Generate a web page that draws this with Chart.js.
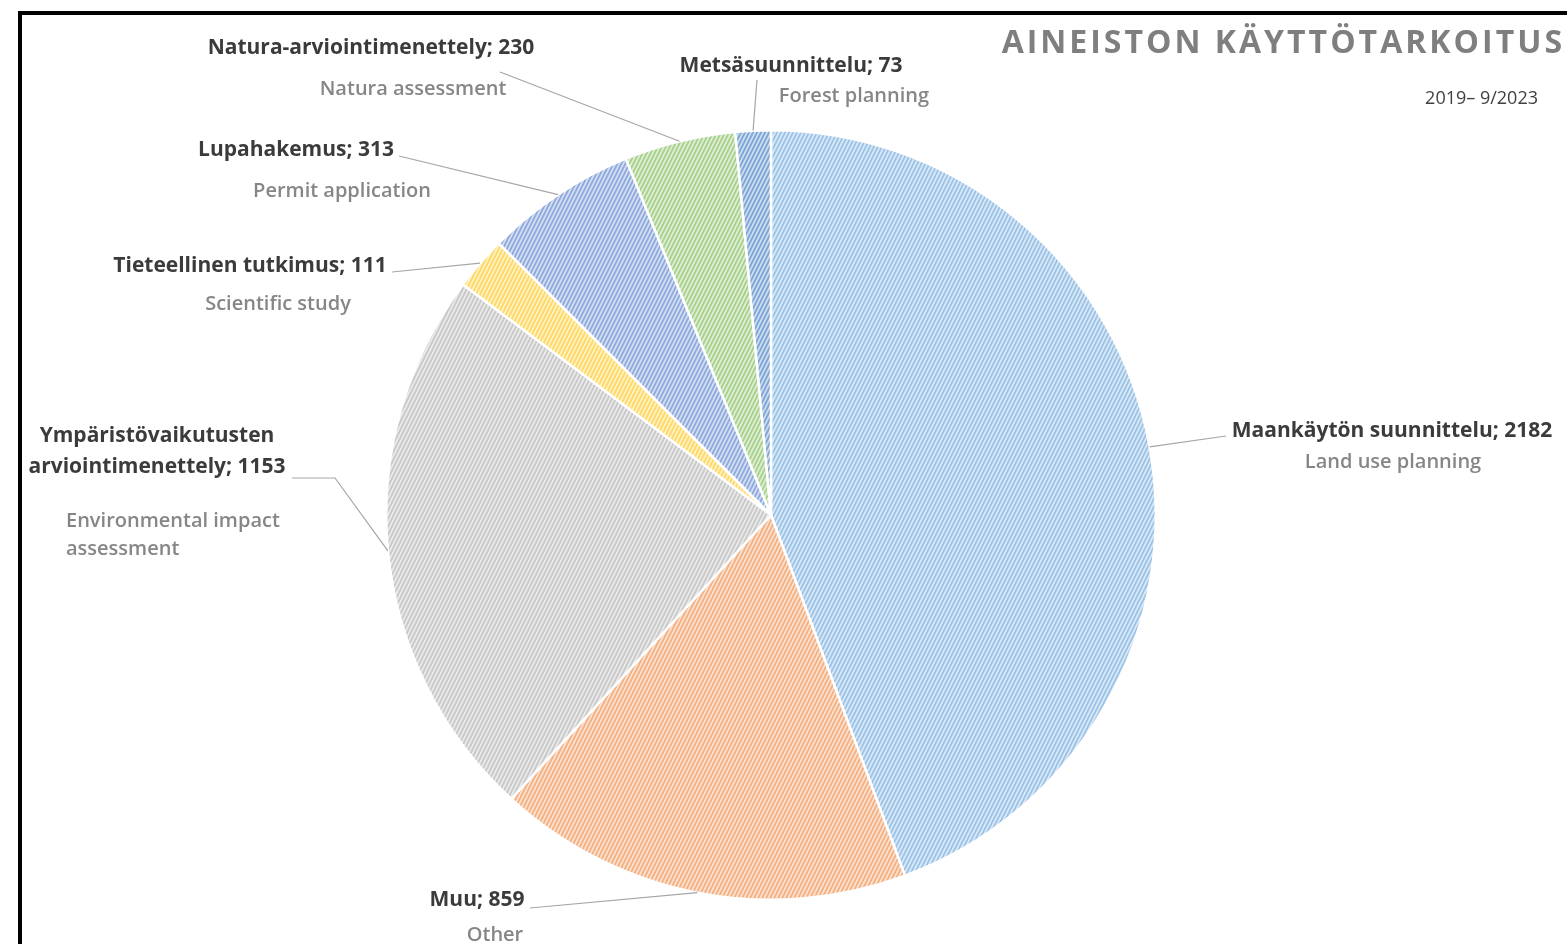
<!DOCTYPE html>
<html>
<head>
<meta charset="utf-8">
<title>Aineiston käyttötarkoitus</title>
<script src="https://cdn.jsdelivr.net/npm/chart.js"></script>
<style>
  html, body { margin: 0; padding: 0; background: #fff; overflow: hidden; }
  canvas { display: block; }
</style>
</head>
<body>
<canvas id="purposeChart" width="1567" height="944"></canvas>
<script>
const categories = [
  "Maankäytön suunnittelu",
  "Muu",
  "Ympäristövaikutusten arviointimenettely",
  "Tieteellinen tutkimus",
  "Lupahakemus",
  "Natura-arviointimenettely",
  "Metsäsuunnittelu"
];
const englishNames = [
  "Land use planning",
  "Other",
  "Environmental impact assessment",
  "Scientific study",
  "Permit application",
  "Natura assessment",
  "Forest planning"
];
const values = [2182, 859, 1153, 111, 313, 230, 73];
const sliceColors = ["#9dc3e6", "#f4b183", "#c9c9c9", "#ffd966", "#8faadc", "#a9d18e", "#7ea6d6"];

const chartTitle = "AINEISTON KÄYTTÖTARKOITUS";
const chartPeriod = "2019– 9/2023";

// where the text of each label sits (bold line centre, english line) and where its leader line ends
const labelLayout = [
  { bx: 1392, by: 431, ex: 1393, ey: 462, lead: [[1226, 436]] },
  { bx: 477, by: 900, ex: 495, ey: 935, lead: [[530, 908]] },
  { bx: 157, by: 436, ex: 66, ey: 521, wrapBold: 1, wrapEn: 2, enLeft: true, lead: [[335, 478], [292, 478]] },
  { bx: 250, by: 266, ex: 278, ey: 304, lead: [[392, 272]] },
  { bx: 296, by: 150, ex: 342, ey: 191, lead: [[399, 156]] },
  { bx: 371, by: 48, ex: 413, ey: 89, lead: [[500, 72]] },
  { bx: 791, by: 66, ex: 854, ey: 96, lead: [[757, 80]] }
];

function hatch(color) {
  const w = 4, h = 8;
  const c = document.createElement("canvas");
  c.width = w; c.height = h;
  const g = c.getContext("2d");
  g.fillStyle = color;
  g.fillRect(0, 0, w, h);
  const img = g.getImageData(0, 0, w, h);
  for (let y = 0; y < h; y++) {
    for (let x = 0; x < w; x++) {
      const phase = (2 * x + y) % 8;
      const k = phase < 3 ? 0.6 : (phase === 3 || phase === 7 ? 0.3 : 0);
      const i = (y * w + x) * 4;
      img.data[i] += (255 - img.data[i]) * k;
      img.data[i + 1] += (255 - img.data[i + 1]) * k;
      img.data[i + 2] += (255 - img.data[i + 2]) * k;
    }
  }
  g.putImageData(img, 0, 0);
  return g.createPattern(c, "repeat");
}

const ctx0 = document.getElementById("purposeChart").getContext("2d");

function splitAfter(text, n) {
  const words = text.split(" ");
  return [words.slice(0, n).join(" "), words.slice(n).join(" ")];
}

const decorations = {
  id: "decorations",
  beforeDraw(chart) {
    const ctx = chart.ctx;
    ctx.save();
    ctx.fillStyle = "#fff";
    ctx.fillRect(0, 0, chart.width, chart.height);
    ctx.fillStyle = "#000";
    ctx.fillRect(18, 11, chart.width, 4);
    ctx.fillRect(18, 11, 4, chart.height);
    ctx.restore();
  },
  afterDatasetsDraw(chart) {
    const ctx = chart.ctx;
    const meta = chart.getDatasetMeta(0);
    ctx.save();

    meta.data.forEach((arc, i) => {
      const p = arc.getProps(["x", "y", "startAngle", "endAngle", "outerRadius"], true);
      const mid = (p.startAngle + p.endAngle) / 2;
      const ax = p.x + Math.cos(mid) * p.outerRadius;
      const ay = p.y + Math.sin(mid) * p.outerRadius;
      const lay = labelLayout[i];

      ctx.strokeStyle = "#a6a6a6";
      ctx.lineWidth = 1.2;
      ctx.beginPath();
      ctx.moveTo(ax, ay);
      lay.lead.forEach(pt => ctx.lineTo(pt[0], pt[1]));
      ctx.stroke();

      const bold = categories[i] + "; " + values[i];
      const boldLines = lay.wrapBold ? splitAfter(bold, lay.wrapBold) : [bold];
      ctx.font = "bold 21px 'Open Sans'";
      ctx.fillStyle = "#3b3b3b";
      ctx.textAlign = "center";
      ctx.textBaseline = "middle";
      boldLines.forEach((t, k) => ctx.fillText(t, lay.bx, lay.by + k * 31));

      const enLines = lay.wrapEn ? splitAfter(englishNames[i], lay.wrapEn) : [englishNames[i]];
      ctx.font = "600 20px 'Open Sans'";
      ctx.fillStyle = "#868686";
      ctx.textAlign = lay.enLeft ? "left" : "center";
      enLines.forEach((t, k) => ctx.fillText(t, lay.ex, lay.ey + k * 28));
    });

    ctx.font = "bold 32px 'Open Sans'";
    ctx.letterSpacing = "3px";
    ctx.fillStyle = "#7f7f7f";
    ctx.textAlign = "right";
    ctx.textBaseline = "middle";
    ctx.fillText(chartTitle, 1565, 44);

    ctx.letterSpacing = "0px";
    ctx.font = "18px 'Open Sans'";
    ctx.fillStyle = "#404040";
    ctx.fillText(chartPeriod, 1538, 99);
    ctx.restore();
  }
};

new Chart(ctx0, {
  type: "pie",
  data: {
    labels: categories,
    datasets: [{
      data: values,
      backgroundColor: sliceColors.map(hatch),
      borderColor: "#ffffff",
      borderWidth: 2.5
    }]
  },
  options: {
    responsive: false,
    animation: false,
    layout: { padding: { left: 385, right: 410, top: 129, bottom: 43 } },
    plugins: {
      legend: { display: false },
      tooltip: { enabled: false },
      title: { display: false }
    }
  },
  plugins: [decorations]
});
</script>
</body>
</html>
